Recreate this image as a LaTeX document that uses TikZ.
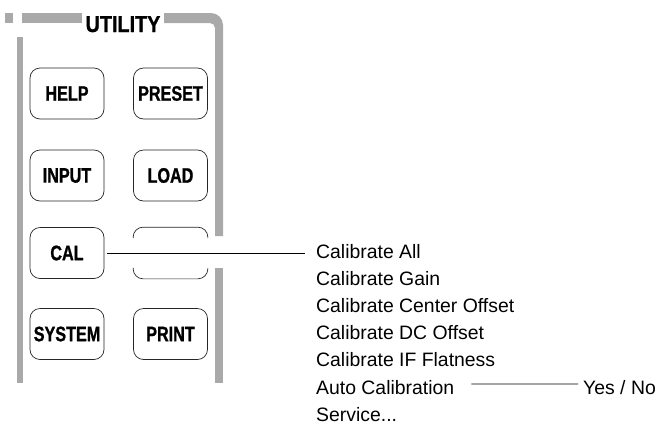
\documentclass[tikz,border=0pt]{standalone}
\usepackage{fontspec}
\setmainfont{Liberation Sans}
\newfontfamily\keyfont[FakeStretch=0.77,FakeBold=1]{Liberation Sans}
\newfontfamily\headfont[FakeStretch=0.86,FakeBold=1]{Liberation Sans}
\usetikzlibrary{calc}
\definecolor{bargray}{HTML}{A9A9A9}

\tikzset{
  keybox/.style={draw=black!85, line width=0.7pt, rounded corners=10pt,
    minimum width=74pt, minimum height=51pt, inner sep=0pt,
    font=\keyfont\bfseries\fontsize{21}{21}\selectfont},
  keyline/.style={draw=black!85, line width=0.7pt, rounded corners=10pt},
  item/.style={anchor=base west, inner sep=0pt, font=\fontsize{19.4}{20}\selectfont},
  link/.style={line width=0.8pt},
}

\begin{document}
\begin{tikzpicture}[x=1pt,y=-1pt]
  \useasboundingbox (0,0) rectangle (664,424);

  \fill[bargray] (5,13) rectangle (13,23);
  \fill[bargray] (22,13) rectangle (82,23);
  \fill[bargray] (164,13) -- (211,13) arc[start angle=-90,end angle=0,radius=12]
    -- (223,236) -- (215,236) -- (215,28) arc[start angle=0,end angle=-90,radius=5]
    -- (164,23) -- cycle;
  \fill[bargray] (215,268) rectangle (223,383);
  \fill[bargray] (17,37) rectangle (23,383);
  \node[anchor=base, inner sep=0pt, font=\headfont\bfseries\fontsize{23}{23}\selectfont] (utility) at (123,32) {UTILITY};

  \foreach \name/\lbl/\x/\y in {help/HELP/67/93.5, preset/PRESET/170.5/93.5,
      input/INPUT/67/175.5, load/LOAD/170.5/175.5, cal/CAL/67/253,
      system/SYSTEM/67/334, print/PRINT/170.5/334} {
    \node[keybox] (\name) at (\x,\y) {\lbl};
  }
  \node[keybox, draw=none] (spare) at (170.5,253) {};
  \draw[keyline] ($(spare.north west)+(0,11)$) -- (spare.north west)
    -- (spare.north east) -- ($(spare.north east)+(0,11)$);
  \draw[keyline] ($(spare.south west)+(0,-11)$) -- (spare.south west)
    -- (spare.south east) -- ($(spare.south east)+(0,-11)$);

  \foreach \txt [count=\i from 0] in {Calibrate All, Calibrate Gain,
      Calibrate Center Offset, Calibrate DC Offset, Calibrate IF Flatness,
      Auto Calibration, Service.{}.{}.} {
    \node[item] (m\i) at (316,{258.5+27.1*\i}) {\txt};
  }
  \node[item] (yes) at (583,394) {Yes / No};

  \draw[link] ([xshift=3pt]cal.east) -- ([xshift=-11pt]cal.east -| m0.west);
  \draw[link] ([shift={(17,-10)}]m5.base east) -- ([shift={(-5,-10)}]yes.base west);
\end{tikzpicture}
\end{document}
